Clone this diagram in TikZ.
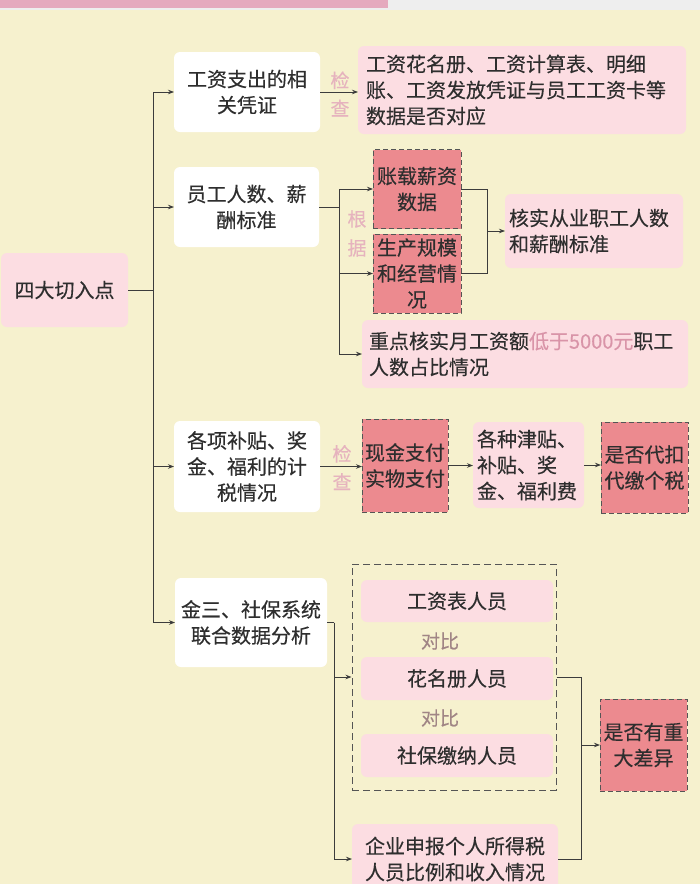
\documentclass[tikz,border=0pt]{standalone}
\usepackage{fontspec}
\newfontfamily\cjk{Noto Sans CJK SC}[FakeBold=0.35]
\usetikzlibrary{arrows.meta}
\definecolor{bg}{HTML}{F6F1CE}
\definecolor{txt}{HTML}{2E2E2E}
\definecolor{pinkbox}{HTML}{FCDDE2}
\definecolor{darkpink}{HTML}{EC8A8F}
\definecolor{dashc}{HTML}{555555}
\definecolor{labpink}{HTML}{E6B3BE}
\definecolor{lowc}{HTML}{D994A8}
\definecolor{cmpc}{HTML}{A08585}
\definecolor{linec}{HTML}{3C3C3C}
\definecolor{topgray}{HTML}{EEEEEE}
\definecolor{toppink}{HTML}{E5A9BE}
\begin{document}
\begin{tikzpicture}[x=1pt,y=-1pt,
  base/.style={font=\cjk\fontsize{20}{26}\selectfont, text=txt, inner sep=0pt, outer sep=0pt},
  wbox/.style={base, fill=white, rounded corners=6pt, align=center},
  pbox/.style={base, fill=pinkbox, rounded corners=6pt},
  dbox/.style={base, fill=darkpink, draw=dashc, dash pattern=on 5pt off 3pt, line width=1pt, align=center},
  frame/.style={draw=dashc, dash pattern=on 7pt off 4pt, line width=1pt, inner sep=0pt},
  lab/.style={base, text=labpink, font=\cjk\fontsize{19}{28}\selectfont, align=center},
  cmp/.style={base, text=cmpc, font=\cjk\fontsize{19}{24}\selectfont},
  conn/.style={draw=linec, line width=0.8pt},
  arr/.style={conn, -{Stealth[length=6pt,width=4.5pt]}}
]
\useasboundingbox (0,0) rectangle (700,884);
\fill[bg] (0,0) rectangle (700,884);
\clip (0,0) rectangle (700,884);
\fill[topgray] (0,0) rectangle (700,10);
\fill[toppink] (0,0) rectangle (388,8);

% root
\node[pbox, align=center, minimum width=127pt, minimum height=74pt] (root) at (64.5,290) {四大切入点};

% branch A
\node[wbox, minimum width=146pt, minimum height=80pt] (A) at (247,92) {工资支出的相\\关凭证};
\node[pbox, align=left, text width=312pt, minimum width=328pt, minimum height=88pt] (A2) at (522,90)
  {工资花名册、工资计算表、明细\\账、工资发放凭证与员工工资卡等\\数据是否对应};
\node[lab] (lblA) at (340,94) {检\\查};

% branch B
\node[wbox, minimum width=145pt, minimum height=80pt] (B) at (246.5,207) {员工人数、薪\\酬标准};
\node[dbox, minimum width=88pt, minimum height=79pt] (B1) at (417,189) {账载薪资\\数据};
\node[dbox, minimum width=88pt, minimum height=79pt] (B2) at (417,273.5) {生产规模\\和经营情\\况};
\node[lab, font=\cjk\fontsize{19}{29}\selectfont] (lblB) at (357,233.5) {根\\据};
\node[pbox, align=left, text width=312pt, minimum width=326pt, minimum height=68pt] (B3) at (525,354)
  {重点核实月工资额\textcolor{lowc}{低于5000元}职工\\人数占比情况};
\node[pbox, align=left, text width=170pt, minimum width=178pt, minimum height=74pt] (B4) at (594,231)
  {核实从业职工人数\\和薪酬标准};

% branch C
\node[wbox, minimum width=146pt, minimum height=91pt] (C) at (247,466.5) {各项补贴、奖\\金、福利的计\\税情况};
\node[lab] (lblC) at (342,467.5) {检\\查};
\node[dbox, minimum width=86pt, minimum height=93pt] (C1) at (405,465.5) {现金支付\\实物支付};
\node[pbox, align=left, text width=103pt, minimum width=111pt, minimum height=86pt] (C2) at (528.5,465)
  {各种津贴、\\补贴、奖\\金、福利费};
\node[dbox, minimum width=87pt, minimum height=91pt] (C3) at (644.5,467.5) {是否代扣\\代缴个税};

% branch D
\node[wbox, minimum width=152pt, minimum height=89pt] (D) at (251,622.5) {金三、社保系统\\联合数据分析};
\node[frame, minimum width=204pt, minimum height=226pt] (DB) at (454,677) {};
\node[pbox, align=center, minimum width=192pt, minimum height=42pt] (D1) at (457,601) {工资表人员};
\node[cmp] (cmp1) at (440,641) {对比};
\node[pbox, align=center, minimum width=192pt, minimum height=43pt] (D2) at (457,678.5) {花名册人员};
\node[cmp] (cmp2) at (440,718) {对比};
\node[pbox, align=center, minimum width=192pt, minimum height=43pt] (D3) at (457,755.5) {社保缴纳人员};
\node[pbox, align=center, minimum width=206pt, minimum height=70pt] (D4) at (455,859)
  {企业申报个人所得税\\人员比例和收入情况};
\node[dbox, minimum width=87pt, minimum height=92pt] (D5) at (643.5,745) {是否有重\\大差异};

% trunk
\coordinate (tx) at (153,290);
\draw[conn] (root.east) -- (tx);
\draw[arr] (tx) |- (A.west);
\draw[arr] (tx) |- (B.west);
\draw[arr] (tx) |- (C.west);
\draw[arr] (tx) |- (D.west);

% A connectors
\draw[arr] (A.east) -- (A.east -| A2.west);

% B connectors
\coordinate (bx) at (339,207);
\draw[conn] (B.east) -- (bx);
\draw[arr] (bx) |- (B1.west);
\draw[arr] (bx) |- (B2.west);
\draw[arr] (bx) |- (B3.west);
\coordinate (bj) at (487,231);
\draw[conn] (B1.east) -| (bj);
\draw[conn] (B2.east) -| (bj);
\draw[arr] (bj) -- (B4.west);

% C connectors
\draw[arr] (C.east) -- (C.east -| C1.west);
\draw[arr] (C1.east) -- (C1.east -| C2.west);
\draw[arr] (C2.east) -- (C2.east -| C3.west);

% D connectors
\coordinate (dx) at (334,622.5);
\draw[conn] (D.east) -- (dx);
\draw[arr] (dx) |- (DB.west);
\draw[arr] (dx) |- (D4.west);
\coordinate (dr) at (581,745);
\draw[conn] (DB.east) -| (dr);
\draw[conn] (D4.east) -| (dr);
\draw[arr] (dr) -- (D5.west);
\end{tikzpicture}
\end{document}
